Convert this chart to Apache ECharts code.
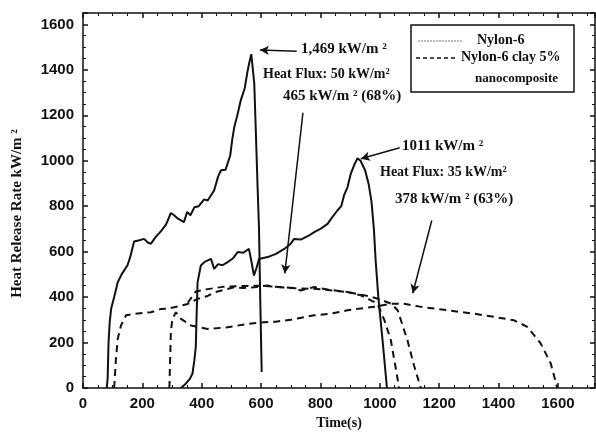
<!DOCTYPE html>
<html>
	<head>
		<meta charset="UTF-8">
		<title>Heat Release Rate</title>
		<script src="https://cdn.jsdelivr.net/npm/echarts@6/dist/echarts.min.js"></script>
		<style>
			html, body { margin: 0; padding: 0; background: #fff; }
		</style>
	</head>
	<body>
		<div id="main" style="width: 596px;height:433px;"></div>
		<script type="text/javascript">
			// [time (s), HRR (kW/m2)]
			var nylon50 = [[80, 0], [83, 40], [86, 200], [90, 290], [95, 350], [105, 400], [117, 465], [130, 500], [150, 540], [160, 580], [172, 645], [190, 650], [206, 656], [218, 640], [229, 635], [245, 665], [263, 690], [280, 720], [296, 770], [307, 760], [320, 745], [340, 730], [351, 775], [362, 760], [375, 795], [390, 800], [408, 830], [420, 825], [442, 870], [455, 930], [465, 958], [480, 960], [496, 1023], [503, 1095], [510, 1150], [520, 1200], [532, 1268], [545, 1320], [554, 1391], [560, 1430], [567, 1469], [577, 1340], [583, 1100], [588, 893], [593, 700], [597, 400], [602, 70]];
			var nylon35 = [[330, 0], [347, 20], [360, 40], [369, 64], [375, 120], [380, 181], [383, 330], [386, 465], [397, 539], [410, 555], [431, 568], [442, 524], [455, 545], [470, 540], [487, 554], [505, 570], [521, 598], [540, 595], [559, 612], [567, 560], [576, 495], [585, 530], [593, 568], [622, 576], [650, 590], [678, 612], [700, 635], [711, 656], [734, 653], [760, 670], [779, 686], [800, 700], [824, 722], [835, 743], [857, 781], [870, 800], [880, 850], [891, 883], [902, 942], [915, 985], [925, 1011], [935, 1000], [950, 960], [962, 900], [972, 820], [980, 700], [986, 560], [995, 400], [1010, 200], [1024, 0]];
			var nano50a = [[105, 0], [111, 128], [117, 216], [128, 275], [145, 320], [172, 326], [200, 330], [229, 333], [263, 348], [290, 350], [307, 355], [330, 362], [353, 370], [386, 392], [420, 405], [442, 421], [470, 430], [509, 443], [540, 440], [577, 443], [600, 448], [622, 451], [650, 445], [678, 443], [710, 440], [734, 429], [779, 444], [830, 432], [891, 422], [936, 408], [970, 386], [992, 371], [1015, 300], [1037, 211], [1052, 100], [1065, 0]];
			var nano50b = [[353, 375], [380, 425], [420, 435], [470, 445], [520, 448], [600, 450], [700, 440], [800, 435], [900, 420], [960, 405], [1000, 390], [1040, 370], [1060, 342], [1093, 211], [1115, 100], [1138, 0]];
			var nano35 = [[291, 0], [296, 245], [301, 304], [313, 333], [330, 304], [364, 275], [420, 260], [487, 267], [554, 282], [610, 289], [650, 292], [700, 300], [723, 306], [779, 320], [835, 327], [891, 342], [936, 350], [981, 357], [1037, 371], [1082, 371], [1138, 357], [1228, 342], [1317, 327], [1385, 313], [1452, 298], [1497, 269], [1542, 196], [1576, 108], [1598, 0]];

			// arrows: [from, to] in data coordinates
			var arrows = [
				[[720, 1482], [596, 1487]],
				[[741, 1211], [680, 504]],
				[[1067, 1057], [936, 1009]],
				[[1175, 737], [1111, 417]]
			];

			var ink = '#111';
			var serif = '"Liberation Serif", "Times New Roman", serif';
			var sans = '"Liberation Sans", Arial, sans-serif';

			var myChart = echarts.init(document.getElementById('main'));

			function solid(name, data) {
				return {
					name: name,
					type: 'line',
					data: data,
					symbol: 'none',
					silent: true,
					lineStyle: { color: ink, width: 2 }
				};
			}

			function dashed(name, data) {
				return {
					name: name,
					type: 'line',
					data: data,
					symbol: 'none',
					silent: true,
					lineStyle: { color: ink, width: 2, type: [7, 5] }
				};
			}

			function axis(extra) {
				return Object.assign({
					type: 'value',
					axisLine: { onZero: false, lineStyle: { color: ink, width: 1.5 } },
					axisTick: { inside: true, length: 5, lineStyle: { color: ink, width: 1.5 } },
					minorTick: { show: true, splitNumber: 4, length: 3, lineStyle: { color: ink } },
					splitLine: { show: false }
				}, extra);
			}

			var tickLabel = {
				showMaxLabel: false,
				fontFamily: sans,
				fontWeight: 'bold',
				fontSize: 15,
				color: ink,
				formatter: function(v) { return String(v); }
			};
			var nameStyle = { fontFamily: serif, fontWeight: 'bold', fontSize: 15, color: ink };

			var series = [
				solid('Nylon-6', nylon50),
				solid('Nylon-6', nylon35),
				dashed('Nylon-6 clay 5% nanocomposite', nano50a),
				dashed('Nylon-6 clay 5% nanocomposite', nano50b),
				dashed('Nylon-6 clay 5% nanocomposite', nano35)
			];
			series[0].markLine = {
				silent: true,
				symbol: ['none', 'arrow'],
				symbolSize: [7, 9],
				label: { show: false },
				lineStyle: { color: ink, width: 1.5, type: 'solid' },
				data: arrows.map(function(a) {
					return [{ coord: a[0] }, { coord: a[1] }];
				})
			};

			myChart.setOption({
				backgroundColor: '#fff',
				animation: false,
				grid: { left: 83, right: 1, top: 13, bottom: 45, containLabel: false, outerBoundsMode: 'none' },
				xAxis: [
					axis({
						min: 0, max: 1725, interval: 200, position: 'bottom',
						name: 'Time(s)', nameLocation: 'middle', nameGap: 28,
						nameTextStyle: Object.assign({}, nameStyle, { fontSize: 14 }),
						axisLabel: Object.assign({ margin: 8 }, tickLabel)
					}),
					axis({
						min: 0, max: 1725, interval: 200, position: 'top',
						axisLabel: { show: false }
					})
				],
				yAxis: [
					axis({
						min: 0, max: 1650, interval: 200, position: 'left',
						name: 'Heat Release Rate kW/m ²', nameLocation: 'middle', nameGap: 58, nameRotate: 90,
						nameTextStyle: Object.assign({ padding: [0, 26, 0, 0] }, nameStyle),
						axisLabel: Object.assign({ margin: 9 }, tickLabel)
					}),
					axis({
						min: 0, max: 1650, interval: 200, position: 'right',
						axisLabel: { show: false }
					})
				],
				series: series,
				graphic: [
					// legend box
					{ type: 'rect', shape: { x: 411, y: 25, width: 163, height: 67 }, style: { fill: '#fff', stroke: ink, lineWidth: 1.5 }, z: 10 },
					{ type: 'line', shape: { x1: 418, y1: 41, x2: 462, y2: 41 }, style: { stroke: '#777', lineWidth: 1, lineDash: [2, 1] }, z: 11 },
					{ type: 'text', left: 477, top: 33, style: { text: 'Nylon-6', font: 'bold 14px ' + serif, fill: ink }, z: 11 },
					{ type: 'line', shape: { x1: 416, y1: 58, x2: 458, y2: 58 }, style: { stroke: ink, lineWidth: 1.5, lineDash: [4, 3] }, z: 11 },
					{ type: 'text', left: 461, top: 50, style: { text: 'Nylon-6 clay 5%', font: 'bold 14px ' + serif, fill: ink }, z: 11 },
					{ type: 'text', left: 475, top: 72, style: { text: 'nanocomposite', font: 'bold 13px ' + serif, fill: ink }, z: 11 },
					// annotations
					{ type: 'text', left: 301, top: 42, style: { text: '1,469 kW/m ²', font: 'bold 15px ' + serif, fill: ink } },
					{ type: 'text', left: 263, top: 67, style: { text: 'Heat Flux: 50 kW/m²', font: 'bold 14px ' + serif, fill: ink } },
					{ type: 'text', left: 283, top: 89, style: { text: '465 kW/m ² (68%)', font: 'bold 15px ' + serif, fill: ink } },
					{ type: 'text', left: 402, top: 139, style: { text: '1011 kW/m ²', font: 'bold 15px ' + serif, fill: ink } },
					{ type: 'text', left: 380, top: 165, style: { text: 'Heat Flux: 35 kW/m²', font: 'bold 14px ' + serif, fill: ink } },
					{ type: 'text', left: 395, top: 192, style: { text: '378 kW/m ² (63%)', font: 'bold 15px ' + serif, fill: ink } }
				]
			});
		</script>
	</body>
</html>
